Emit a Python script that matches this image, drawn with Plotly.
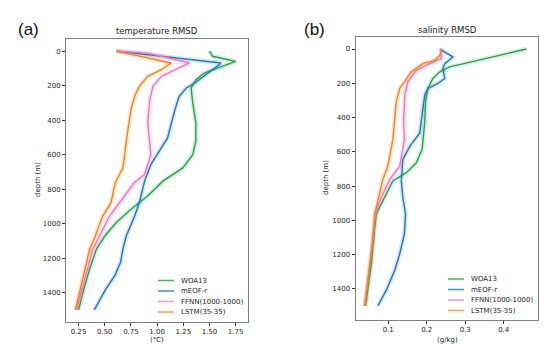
import plotly.graph_objects as go

# ---------------- data ----------------
series_names = ["WOA13", "mEOF-r", "FFNN(1000-1000)", "LSTM(35-35)"]

# temperature RMSD (°C) vs depth (m)
T_WOA_depth = [0, 30, 60, 98, 127, 166, 214, 301, 416, 520, 600, 677, 754, 840, 917, 994, 1072, 1149, 1264, 1380, 1500]
T_WOA = [1.50, 1.53, 1.75, 1.58, 1.45, 1.37, 1.325, 1.34, 1.37, 1.37, 1.34, 1.245, 1.055, 0.91, 0.75, 0.61, 0.50, 0.42, 0.355, 0.30, 0.25]

T_mEOF_depth = [0, 69, 98, 146, 185, 214, 262, 340, 416, 503, 580, 658, 754, 800, 879, 956, 1072, 1149, 1226, 1303, 1380, 1500]
T_mEOF = [0.61, 1.61, 1.55, 1.45, 1.36, 1.28, 1.21, 1.17, 1.135, 1.10, 1.02, 0.94, 0.88, 0.86, 0.83, 0.785, 0.705, 0.673, 0.65, 0.594, 0.51, 0.40]

T_FFNN_depth = [0, 12, 69, 108, 146, 204, 282, 416, 520, 600, 715, 763, 879, 956, 1072, 1149, 1342, 1500]
T_FFNN = [0.62, 0.91, 1.31, 1.17, 1.04, 0.96, 0.93, 0.91, 0.93, 0.94, 0.88, 0.78, 0.64, 0.546, 0.45, 0.386, 0.30, 0.23]

T_LSTM_depth = [0, 69, 108, 146, 204, 262, 340, 416, 520, 600, 677, 763, 879, 956, 1072, 1149, 1342, 1500]
T_LSTM = [0.61, 1.134, 1.04, 0.91, 0.83, 0.785, 0.75, 0.73, 0.705, 0.69, 0.673, 0.60, 0.56, 0.48, 0.41, 0.355, 0.28, 0.22]

# salinity RMSD (g/kg) vs depth (m)
S_WOA_depth = [0, 37, 75, 104, 133, 172, 230, 307, 423, 587, 664, 722, 770, 886, 963, 1040, 1253, 1500]
S_WOA = [0.459, 0.39, 0.32, 0.26, 0.234, 0.216, 0.203, 0.197, 0.195, 0.188, 0.173, 0.147, 0.112, 0.086, 0.069, 0.065, 0.056, 0.041]

S_mEOF_depth = [0, 46, 85, 114, 172, 201, 230, 268, 346, 490, 568, 645, 770, 867, 963, 1079, 1195, 1292, 1408, 1500]
S_mEOF = [0.234, 0.268, 0.247, 0.242, 0.247, 0.229, 0.203, 0.195, 0.19, 0.182, 0.156, 0.138, 0.134, 0.138, 0.145, 0.142, 0.130, 0.117, 0.095, 0.073]

S_FFNN_depth = [0, 56, 85, 123, 191, 268, 423, 529, 683, 761, 886, 963, 1157, 1350, 1500]
S_FFNN = [0.237, 0.238, 0.208, 0.173, 0.151, 0.143, 0.140, 0.142, 0.13, 0.104, 0.078, 0.067, 0.058, 0.047, 0.039]

S_LSTM_depth = [0, 37, 66, 85, 133, 230, 307, 423, 529, 683, 761, 886, 963, 1157, 1350, 1500]
S_LSTM = [0.24, 0.234, 0.221, 0.19, 0.16, 0.13, 0.121, 0.117, 0.112, 0.099, 0.086, 0.073, 0.065, 0.058, 0.047, 0.039]

depth_ticks = [0, 200, 400, 600, 800, 1000, 1200, 1400]
T_ticks = [0.25, 0.50, 0.75, 1.00, 1.25, 1.50, 1.75]
S_ticks = [0.1, 0.2, 0.3, 0.4]

# ---------------- styling ----------------
colors = ["#20a848", "#1f78c0", "#ff70c0", "#ff800e"]
halo = ["rgba(32,168,72,0.18)", "rgba(31,120,192,0.18)", "rgba(255,112,192,0.18)", "rgba(255,128,14,0.18)"]
legend_colors = ["#35c060", "#3590d0", "#ff90d0", "#ffa040"]
FONT = "DejaVu Sans"
W, H = 550, 350

fig = go.Figure()

temp = [(T_WOA, T_WOA_depth), (T_mEOF, T_mEOF_depth), (T_FFNN, T_FFNN_depth), (T_LSTM, T_LSTM_depth)]
sal = [(S_WOA, S_WOA_depth), (S_mEOF, S_mEOF_depth), (S_FFNN, S_FFNN_depth), (S_LSTM, S_LSTM_depth)]

for data, xa, ya in [(temp, "x", "y"), (sal, "x2", "y2")]:
    for i, (vals, dep) in enumerate(data):
        fig.add_trace(go.Scatter(x=vals, y=dep, mode="lines", xaxis=xa, yaxis=ya,
                                 line=dict(color=halo[i], width=4.5), showlegend=False,
                                 hoverinfo="skip"))
    for i, (vals, dep) in enumerate(data):
        fig.add_trace(go.Scatter(x=vals, y=dep, mode="lines", xaxis=xa, yaxis=ya,
                                 name=series_names[i], showlegend=False,
                                 line=dict(color=colors[i], width=1.4)))

axis_common = dict(showline=True, mirror=True, linecolor="#808080", linewidth=1,
                   ticks="outside", ticklen=3, tickwidth=0.8, tickcolor="#333",
                   showgrid=False, zeroline=False,
                   tickfont=dict(family=FONT, size=7, color="#222"))

fig.update_layout(
    width=W, height=H,
    margin=dict(l=0, r=0, t=0, b=0),
    paper_bgcolor="white", plot_bgcolor="white",
    showlegend=False,
    xaxis=dict(domain=[0.1055, 0.4364], range=[0.13, 1.868], tickvals=T_ticks,
               ticktext=[f"{v:.2f}" for v in T_ticks], anchor="y", **axis_common),
    yaxis=dict(domain=[0.103, 0.9114], range=[1570, -70], tickvals=depth_ticks,
               anchor="x", **axis_common),
    xaxis2=dict(domain=[0.632, 0.9636], range=[0.0153, 0.489], tickvals=S_ticks,
                ticktext=[f"{v:.1f}" for v in S_ticks], anchor="y2", **axis_common),
    yaxis2=dict(domain=[0.1086, 0.917], range=[1582, -70], tickvals=depth_ticks,
                anchor="x2", **axis_common),
)

# manual legends (matplotlib-style short handles)
legend_rows = [272.5, 283, 293.5, 304]
for x0, rows in [(150, legend_rows), (440, [271, 281.5, 292, 302.5])]:
    for i, ry in enumerate(rows):
        fig.add_shape(type="line", xref="paper", yref="paper",
                      x0=x0 / W, x1=(x0 + 16) / W, y0=1 - ry / H, y1=1 - ry / H,
                      line=dict(color=legend_colors[i], width=1.5))
        fig.add_annotation(xref="paper", yref="paper", showarrow=False,
                           x=(x0 + 21) / W, y=1 - ry / H, xanchor="left", yanchor="middle",
                           text=series_names[i], font=dict(family=FONT, size=7, color="#222"))

ann = [
    dict(text="(a)", x=20 / W, y=1 - 22 / H, font=dict(family="Liberation Sans", size=17, color="#111")),
    dict(text="(b)", x=306 / W, y=1 - 22 / H, font=dict(family="Liberation Sans", size=17, color="#111")),
    dict(text="temperature RMSD", x=149 / W, y=1 - 23 / H, font=dict(family=FONT, size=8.5, color="#222")),
    dict(text="salinity RMSD", x=439 / W, y=1 - 22 / H, font=dict(family=FONT, size=8.5, color="#222")),
    dict(text="depth (m)", x=30 / W, y=1 - 172 / H, textangle=-90, font=dict(family=FONT, size=7, color="#222")),
    dict(text="depth (m)", x=318 / W, y=1 - 170 / H, textangle=-90, font=dict(family=FONT, size=7, color="#222")),
    dict(text="(°C)", x=149 / W, y=1 - 332 / H, font=dict(family=FONT, size=7, color="#222")),
    dict(text="(g/kg)", x=439 / W, y=1 - 332 / H, font=dict(family=FONT, size=7, color="#222")),
]
for a in ann:
    fig.add_annotation(xref="paper", yref="paper", showarrow=False, xanchor="center", yanchor="middle", **a)

fig.write_html("out.html")
